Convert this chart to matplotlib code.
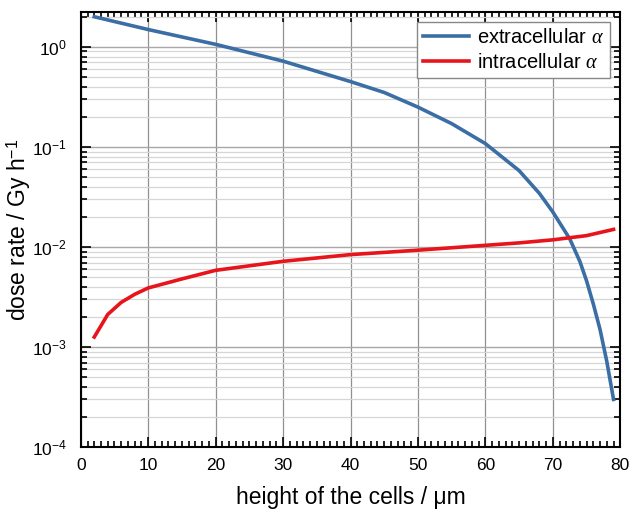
import numpy as np
import matplotlib.pyplot as plt
from matplotlib.ticker import MultipleLocator, LogLocator

plt.rcParams['font.family'] = ['Liberation Sans', 'DejaVu Sans']
plt.rcParams['mathtext.fontset'] = 'custom'
plt.rcParams['mathtext.rm'] = 'Liberation Sans'
plt.rcParams['mathtext.it'] = 'Liberation Serif:italic'

# extracellular alpha
x_ext = [2, 10, 20, 30, 40, 45, 50, 55, 60, 65, 68, 70, 72.5, 74, 75, 76, 77, 78, 79]
y_ext = [2.0, 1.49, 1.06, 0.72, 0.45, 0.35, 0.25, 0.171, 0.108, 0.058, 0.0344,
         0.0224, 0.0121, 0.0072, 0.0046, 0.0027, 0.0015, 0.00072, 0.0003]

# intracellular alpha
x_int = [2, 4, 6, 8, 10, 15, 20, 30, 40, 50, 60, 65, 70, 75, 79]
y_int = [1.26e-3, 2.12e-3, 2.8e-3, 3.37e-3, 3.9e-3, 4.8e-3, 5.85e-3, 7.2e-3,
         8.4e-3, 9.3e-3, 1.04e-2, 1.1e-2, 1.18e-2, 1.3e-2, 1.5e-2]

fig = plt.figure(figsize=(6.31, 5.14), dpi=100)
ax = fig.add_axes([0.128, 0.130, 0.855, 0.847])

ax.plot(x_ext, y_ext, color='#3a6ea5', lw=2.6, label=r'extracellular $\alpha$')
ax.plot(x_int, y_int, color='#e8141b', lw=2.6, label=r'intracellular $\alpha$')

ax.set_yscale('log')
ax.set_xlim(0, 80)
ax.set_ylim(1e-4, 2.24)
ax.xaxis.set_major_locator(MultipleLocator(10))
ax.xaxis.set_minor_locator(MultipleLocator(1))
ax.yaxis.set_major_locator(LogLocator(base=10, numticks=10))
ax.yaxis.set_minor_locator(LogLocator(base=10, subs=np.arange(2, 10), numticks=20))

ax.grid(True, which='major', axis='x', color='#909090', lw=0.9)
ax.grid(True, which='major', axis='y', color='#a8a8a8', lw=1.0)
ax.grid(True, which='minor', axis='y', color='#d6d6d6', lw=0.9)

ax.tick_params(which='both', direction='in', top=True, right=True, width=1.2)
ax.tick_params(which='major', length=7, labelsize=12.5)
ax.tick_params(axis='x', which='major', pad=8)
ax.tick_params(axis='y', which='major', pad=10)
ax.tick_params(which='minor', length=4)
for s in ax.spines.values():
    s.set_linewidth(1.5)

ax.set_xlabel('height of the cells / μm', fontsize=16.5, labelpad=9)
ax.set_ylabel(r'dose rate / Gy h$^{-1}$', fontsize=16.5, labelpad=-1)

leg = ax.legend(loc='upper right', fontsize=14.5, fancybox=False, framealpha=1,
                edgecolor='#888888', handlelength=2.3, handletextpad=0.4,
                borderaxespad=0.5, borderpad=0.3, labelspacing=0.3)
leg.get_frame().set_linewidth(1.0)

fig.savefig('out.png', dpi=100)
